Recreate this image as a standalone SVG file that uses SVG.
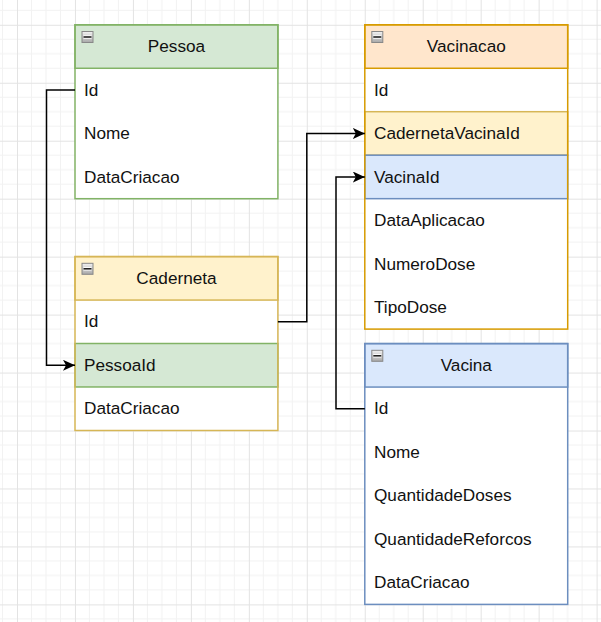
<svg xmlns="http://www.w3.org/2000/svg" width="601" height="622" viewBox="0 0 601 622">
  <defs>
    <pattern id="grid" patternUnits="userSpaceOnUse" x="17" y="24.8" width="57.96" height="57.96">
      <path d="M14.49,0V57.96M28.98,0V57.96M43.47,0V57.96M0,14.49H57.96M0,28.98H57.96M0,43.47H57.96" stroke="#f2f2f2" stroke-width="1" fill="none"/>
      <path d="M0.5,0V57.96M0,0.5H57.96" stroke="#e3e3e3" stroke-width="1" fill="none"/>
    </pattern>
    <linearGradient id="icoGrad" x1="0" y1="0" x2="0" y2="1">
      <stop offset="0" stop-color="#f2f2f2"/>
      <stop offset="1" stop-color="#a8a8a8"/>
    </linearGradient>
    <marker id="arrow" markerUnits="userSpaceOnUse" markerWidth="14" markerHeight="12" refX="12" refY="5.5" orient="auto">
      <path d="M0,0 L12,5.5 L0,11 L3,5.5 Z" fill="#000"/>
    </marker>
    <g id="ico">
      <rect x="0.5" y="0.5" width="11" height="11" fill="url(#icoGrad)" stroke="#888"/>
      <rect x="2" y="4.3" width="8" height="3.4" fill="#fff"/>
      <rect x="2" y="5.2" width="8" height="1.6" fill="#222"/>
    </g>
  </defs>
  <style>
    text { font-family: "Liberation Sans", Arial, sans-serif; font-size: 17.2px; fill: #111; }
    .title { text-anchor: middle; }
    .frame { fill: none; stroke-width: 1.5; }
    .conn { fill: none; stroke: #000; stroke-width: 1.5; }
  </style>

  <rect width="601" height="622" fill="#ffffff"/>
  <rect width="601" height="622" fill="url(#grid)"/>

  <g id="Pessoa">
    <rect x="75" y="24.8" width="202.9" height="173.9" fill="#ffffff"/>
    <rect x="75" y="24.8" width="202.9" height="43.47" fill="#d5e8d4" stroke="#82b366" stroke-width="1.5"/>
    <rect x="75" y="24.8" width="202.9" height="173.9" class="frame" stroke="#82b366"/>
    <use href="#ico" x="81.5" y="31"/>
    <text class="title" x="176.5" y="52.2">Pessoa</text>
    <text x="84" y="95.6">Id</text>
    <text x="84" y="139.1">Nome</text>
    <text x="84" y="182.6">DataCriacao</text>
  </g>

  <g id="Caderneta">
    <rect x="75" y="256.6" width="202.9" height="173.9" fill="#ffffff"/>
    <rect x="75" y="343.5" width="202.9" height="43.47" fill="#d5e8d4" stroke="#82b366" stroke-width="1.5"/>
    <rect x="75" y="256.6" width="202.9" height="43.47" fill="#fff2cc" stroke="#d6b656" stroke-width="1.5"/>
    <rect x="75" y="256.6" width="202.9" height="173.9" class="frame" stroke="#d6b656"/>
    <use href="#ico" x="81.5" y="262.8"/>
    <text class="title" x="176.5" y="284">Caderneta</text>
    <text x="84" y="327.4">Id</text>
    <text x="84" y="370.9">PessoaId</text>
    <text x="84" y="414.4">DataCriacao</text>
  </g>

  <g id="Vacinacao">
    <rect x="364.8" y="24.8" width="202.9" height="304.3" fill="#ffffff"/>
    <rect x="364.8" y="111.7" width="202.9" height="43.47" fill="#fff2cc" stroke="#d6b656" stroke-width="1.5"/>
    <rect x="364.8" y="155.2" width="202.9" height="43.47" fill="#dae8fc" stroke="#6c8ebf" stroke-width="1.5"/>
    <rect x="364.8" y="24.8" width="202.9" height="43.47" fill="#ffe6cc" stroke="#d79b00" stroke-width="1.5"/>
    <rect x="364.8" y="24.8" width="202.9" height="304.3" class="frame" stroke="#d79b00"/>
    <use href="#ico" x="371.3" y="31"/>
    <text class="title" x="466.3" y="52.2">Vacinacao</text>
    <text x="374" y="95.6">Id</text>
    <text x="374" y="139.1">CadernetaVacinaId</text>
    <text x="374" y="182.6">VacinaId</text>
    <text x="374" y="226">DataAplicacao</text>
    <text x="374" y="269.5">NumeroDose</text>
    <text x="374" y="313">TipoDose</text>
  </g>

  <g id="Vacina">
    <rect x="364.8" y="343.6" width="202.9" height="260.8" fill="#ffffff"/>
    <rect x="364.8" y="343.6" width="202.9" height="43.47" fill="#dae8fc" stroke="#6c8ebf" stroke-width="1.5"/>
    <rect x="364.8" y="343.6" width="202.9" height="260.8" class="frame" stroke="#6c8ebf"/>
    <use href="#ico" x="371.3" y="349.8"/>
    <text class="title" x="466.3" y="371">Vacina</text>
    <text x="374" y="414.4">Id</text>
    <text x="374" y="457.9">Nome</text>
    <text x="374" y="501.4">QuantidadeDoses</text>
    <text x="374" y="544.8">QuantidadeReforcos</text>
    <text x="374" y="588.3">DataCriacao</text>
  </g>

  <g id="connectors">
    <path class="conn" d="M75,90 H46.5 V365.3 H75" marker-end="url(#arrow)"/>
    <path class="conn" d="M277.9,321.8 H306.8 V133.5 H364.8" marker-end="url(#arrow)"/>
    <path class="conn" d="M364.8,408.8 H336 V177 H364.8" marker-end="url(#arrow)"/>
  </g>
</svg>
